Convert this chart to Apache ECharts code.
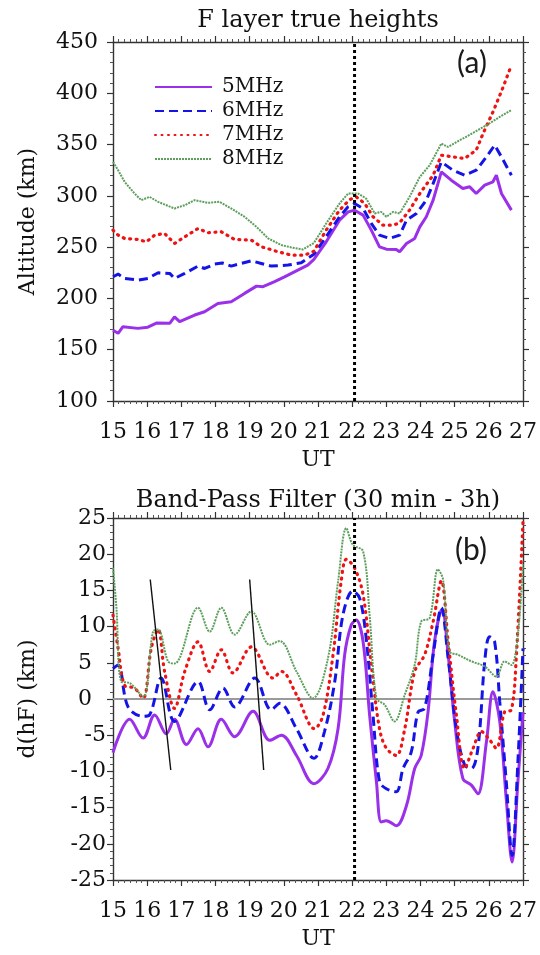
<!DOCTYPE html>
<html><head><meta charset="utf-8">
<script src="https://cdn.jsdelivr.net/npm/echarts@6/dist/echarts.min.js"></script>
<style>html,body{margin:0;padding:0;background:#fff}#c{width:540px;height:955px}</style>
</head><body><div id="c"></div>
<script>
const seriesNames = ['5MHz', '6MHz', '7MHz', '8MHz'];
const xTicks = [15, 27, 1];          // min, max, step (UT hours)
const yTicksA = [100, 450, 50];
const yTicksB = [-25, 25, 5];
const eventTime = 22.07;             // dotted vertical marker (UT)

// ---- panel (a): F layer true heights (km) ----
const tA5 = [15.0,15.15,15.29,15.73,16.02,16.27,16.66,16.8,16.95,17.39,17.68,18.07,18.46,18.85,19.2,19.39,19.73,20.02,20.41,20.7,20.88,21.24,21.63,21.88,22.07,22.32,22.56,22.8,23.0,23.29,23.39,23.59,23.83,23.98,24.17,24.37,24.61,24.9,25.24,25.44,25.63,25.88,26.12,26.22,26.37,26.66];
const hA5 = [169,166,172.4,170.8,172,176,175.7,182,177.3,183.8,187,195,196.8,204.9,212,211.4,216.3,221,227.6,232.5,238,255.2,276.3,284.4,286,281.2,266.6,250.3,248,247.7,245.5,253.6,258.5,269.8,279.6,295.8,323.4,315.3,307.2,308.8,302.3,310.4,313.7,320.1,302.3,286.1];
const tA6 = [15.0,15.15,15.34,15.73,16.02,16.32,16.66,16.8,17.1,17.49,17.68,17.98,18.2,18.46,19.05,19.34,19.63,20.12,20.51,20.88,21.24,21.63,21.88,22.07,22.32,22.56,22.8,23.1,23.39,23.59,23.88,24.17,24.37,24.61,24.95,25.29,25.63,25.93,26.17,26.37,26.66];
const hA6 = [221.1,223.7,219.5,217.9,219.5,225,224.4,219.5,224.4,231.5,229.2,233.5,234.5,231.5,236.7,234.1,231.5,232.5,234.8,243,260.1,279.6,289.3,292.5,287.7,273.1,261.7,258.5,261.7,276.3,282.8,295.8,312,333.1,325,320.1,325,338,349.4,338,320.1];
const tA7 = [15.0,15.15,15.34,15.73,15.98,16.22,16.51,16.8,17.1,17.49,17.78,18.17,18.56,19.05,19.34,19.83,20.22,20.61,20.88,21.24,21.63,21.93,22.12,22.37,22.61,22.9,23.2,23.39,23.68,23.98,24.37,24.61,24.95,25.29,25.63,25.83,26.12,26.42,26.66];
const hA7 = [266.6,261.7,258.5,257.5,255.2,261.7,263.3,253.6,260.1,268.2,264,265,257.5,256.8,250.4,245.5,242.2,242.2,246,266.6,286.1,296.4,299,292.5,279.6,271.4,271.4,273.7,286.1,302.3,320.1,339.6,338,336.4,344.5,360.7,381.8,406.2,427.3];
const tA8 = [15.0,15.15,15.34,15.63,15.83,16.07,16.32,16.8,17.1,17.39,17.78,18.12,18.46,18.85,19.2,19.54,19.93,20.22,20.56,20.88,21.24,21.63,21.88,22.17,22.41,22.66,22.85,23.0,23.2,23.39,23.68,23.98,24.27,24.61,24.8,25.15,25.54,25.93,26.32,26.66];
const hA8 = [333.1,325,313.7,302.3,295.8,299,294.2,287.7,290.9,295.8,293.2,294.2,287.7,279.6,269.8,258.5,252,249.7,247.7,254,273.1,292.5,302.3,302.3,297.4,282.8,284.4,279.6,284.4,282.8,299,318.5,329.9,351,347.7,354.2,361.4,368.8,377,383.5];

// ---- panel (b): band-pass filtered d(hF) (km) ----
const tB5 = [15.0,15.49,15.88,16.22,16.56,16.8,17.15,17.49,17.78,18.17,18.56,19.1,19.59,19.93,20.37,20.88,21.29,21.59,21.78,21.97,22.12,22.32,22.51,22.71,22.85,23.0,23.29,23.59,23.83,24.02,24.22,24.41,24.63,24.81,25.0,25.24,25.49,25.68,25.93,26.12,26.32,26.51,26.68,26.85,27.0];
const dB5 = [-7.4,-2.8,-5.4,-2.2,-4.8,-2.8,-6.3,-4.1,-6.6,-2.8,-5.2,-1.7,-5.7,-5.0,-7.8,-11.7,-9.6,-4.0,6.1,10.2,10.9,7.9,-2.2,-11.4,-17.0,-16.8,-17.5,-14.7,-9.6,-7.8,-1.8,7.9,12.4,6.1,-3.1,-11.0,-11.9,-13.1,-5.9,1.0,-3.1,-13.8,-22.5,-11.4,-1.8];
const tB6 = [15.0,15.15,15.44,15.88,16.07,16.41,16.8,17.49,17.83,18.22,18.56,19.15,19.63,19.88,20.37,20.88,21.19,21.49,21.73,22.02,22.22,22.41,22.61,22.8,23.0,23.29,23.49,23.73,23.93,24.12,24.37,24.61,24.81,25.05,25.29,25.49,25.68,25.88,26.02,26.17,26.32,26.51,26.68,26.85,27.0];
const dB6 = [4.2,4.7,-1.1,-2.4,-2.2,2.9,-3.1,2.4,-1.5,1.5,-1.1,2.9,-1.5,-0.6,-4.1,-8.2,-4.5,2.4,11.6,14.9,13.9,8.4,-2.2,-11.4,-12.4,-12.8,-9.6,-7.3,-1.8,-1.3,6.1,12.6,5.6,-4.1,-9.1,-9.6,-6.8,5.2,8.6,7.9,-0.4,-11.4,-21.6,-8.7,7.0];
const tB7 = [15.0,15.15,15.34,15.63,15.88,16.12,16.32,16.51,16.8,17.1,17.49,17.83,18.17,18.51,19.05,19.68,19.93,20.37,20.9,21.15,21.44,21.68,21.83,22.07,22.32,22.56,22.8,23.0,23.29,23.54,23.83,24.12,24.37,24.61,24.81,25.05,25.29,25.54,25.78,26.0,26.22,26.46,26.66,26.8,27.0];
const dB7 = [11.6,7.0,1.9,1.5,0.1,7.0,9.6,3.8,-1.3,3.8,7.9,3.8,6.8,3.6,7.2,2.9,3.8,0.6,-4.1,-2.2,6.1,16.3,19.3,18.1,14.4,4.7,-4.1,-6.8,-7.8,-4.1,3.8,6.1,10.7,16.3,7.9,-2.2,-9.6,-6.8,-4.5,-5.5,-6.8,-1.8,-1.5,5.5,24.6];
const tB8 = [15.0,15.1,15.24,15.49,15.88,16.17,16.32,16.61,16.8,17.49,17.83,18.17,18.56,19.05,19.59,19.88,20.37,20.85,21.29,21.59,21.83,22.02,22.32,22.51,22.71,22.95,23.24,23.54,23.83,24.02,24.27,24.51,24.66,24.85,25.1,25.49,25.88,26.22,26.46,26.66,26.85,27.0];
const dB8 = [18.1,12.6,2.4,2.2,0.3,9.3,9.6,5.2,4.9,12.6,9.3,12.6,8.9,12.1,7.5,8.0,3.8,0.1,5.6,16.3,23.6,21.3,20.4,11.6,0.1,-0.8,-3.1,0.6,4.7,10.7,11.2,17.9,16.5,6.6,6.1,5.2,4.5,3.1,5.2,4.7,8.9,18.6];

// hand-drawn slanted reference lines in panel (b): [t, d] end points
const slant1 = [[16.09, 16.5], [16.69, -9.8]];
const slant2 = [[19.0, 16.5], [19.41, -9.8]];

const SERIF = "'DejaVu Serif', serif";
const colors = ['#9a30ea', '#1414e6', '#f01212', '#5c9e5c'];
const lineStyles = [
  {width: 3, type: 'solid'},
  {width: 3, type: [9, 5]},
  {width: 3.2, type: [1, 5.5], cap: 'round'},
  {width: 2, type: [2, 1]}
];
const zip = (a, b) => a.map((v, i) => [v, b[i]]);
const dataA = [zip(tA5, hA5), zip(tA6, hA6), zip(tA7, hA7), zip(tA8, hA8)];
const dataB = [zip(tB5, dB5), zip(tB6, dB6), zip(tB7, dB7), zip(tB8, dB8)];

function xAx(grid, pos, labels) {
  return {
    type: 'value', gridIndex: grid, position: pos,
    min: xTicks[0], max: xTicks[1], interval: xTicks[2],
    axisLine: {show: true, onZero: false, lineStyle: {color: '#333', width: 1.4}},
    axisTick: {show: true, inside: false, length: 6, lineStyle: {color: '#333', width: 1.2}},
    minorTick: {show: true, splitNumber: 6, length: 3, lineStyle: {color: '#555'}},
    splitLine: {show: false},
    axisLabel: {show: labels, margin: 20, fontSize: 22, fontFamily: SERIF, color: '#111'},
    name: labels ? 'UT' : '', nameLocation: 'middle', nameGap: 48,
    nameTextStyle: {fontSize: 22, fontFamily: SERIF, color: '#111'}
  };
}
function yAx(grid, pos, ticks, labels, name, margin, fmt) {
  return {
    type: 'value', gridIndex: grid, position: pos,
    min: ticks[0], max: ticks[1], interval: ticks[2],
    axisLine: {show: true, onZero: false, lineStyle: {color: '#333', width: 1.4}},
    axisTick: {show: true, inside: false, length: 6, lineStyle: {color: '#333', width: 1.2}},
    minorTick: {show: true, splitNumber: 5, length: 3, lineStyle: {color: '#555'}},
    splitLine: {show: false},
    axisLabel: {show: labels, margin: margin, fontSize: 22, fontFamily: SERIF, color: '#111', formatter: fmt},
    name: labels ? name : '', nameLocation: 'middle', nameGap: 74, nameRotate: 90,
    nameTextStyle: {fontSize: 22, fontFamily: SERIF, color: '#111'}
  };
}

const series = [];
dataA.forEach((d, i) => series.push({
  name: seriesNames[i], type: 'line', xAxisIndex: 0, yAxisIndex: 0, data: d,
  symbol: 'none', smooth: false, color: colors[i],
  lineStyle: Object.assign({color: colors[i]}, lineStyles[i]), z: 3 + i
}));
series.push({
  type: 'line', xAxisIndex: 2, yAxisIndex: 2, data: [[xTicks[0], 0], [xTicks[1], 0]],
  symbol: 'none', lineStyle: {color: '#9a9a9a', width: 2}, z: 2, silent: true
});
dataB.forEach((d, i) => series.push({
  name: seriesNames[i], type: 'line', xAxisIndex: 2, yAxisIndex: 2, data: d,
  symbol: 'none', smooth: 0.35, color: colors[i],
  lineStyle: Object.assign({color: colors[i]}, lineStyles[i]), z: 3 + i
}));
[slant1, slant2].forEach(s => series.push({
  type: 'line', xAxisIndex: 2, yAxisIndex: 2, data: s, symbol: 'none',
  lineStyle: {color: '#111', width: 1.4}, z: 8, silent: true
}));
series.push({
  type: 'line', xAxisIndex: 0, yAxisIndex: 0, data: [[eventTime, yTicksA[0]], [eventTime, yTicksA[1]]],
  symbol: 'none', lineStyle: {color: '#000', width: 3, type: [3, 3]}, z: 9, silent: true
});
series.push({
  type: 'line', xAxisIndex: 2, yAxisIndex: 2, data: [[eventTime, yTicksB[0]], [eventTime, yTicksB[1]]],
  symbol: 'none', lineStyle: {color: '#000', width: 3, type: [3, 3]}, z: 9, silent: true
});

const chart = echarts.init(document.getElementById('c'), null, {renderer: 'canvas'});
chart.setOption({
  animation: false,
  backgroundColor: '#fff',
  grid: [
    {left: 113, top: 42, width: 410, height: 359},
    {left: 113, top: 518, width: 410, height: 362}
  ],
  xAxis: [xAx(0, 'bottom', true), xAx(0, 'top', false), xAx(1, 'bottom', true), xAx(1, 'top', false)],
  yAxis: [
    yAx(0, 'left', yTicksA, true, 'Altitude (km)', 15),
    yAx(0, 'right', yTicksA, false, '', 8),
    yAx(1, 'left', yTicksB, true, 'd(hF) (km)', 7, v => (v >= 0 && v < 10) ? v + '\u2007' : String(v)),
    yAx(1, 'right', yTicksB, false, '', 8)
  ],
  legend: {
    data: seriesNames, orient: 'vertical', left: 149, top: 72,
    itemWidth: 57, itemHeight: 14, itemGap: 4,
    itemStyle: {opacity: 0},
    textStyle: {fontSize: 20, fontFamily: SERIF, color: '#111', lineHeight: 20, padding: [0, 0, 0, 5]}
  },
  graphic: [
    {type: 'text', x: 318, y: 21, style: {text: 'F layer true heights', font: "24px 'DejaVu Serif', serif", fill: '#111', align: 'center', verticalAlign: 'middle'}},
    {type: 'text', x: 318, y: 501, style: {text: 'Band-Pass Filter (30 min - 3h)', font: "24px 'DejaVu Serif', serif", fill: '#111', align: 'center', verticalAlign: 'middle'}},
    {type: 'text', x: 472, y: 63, style: {text: '(a)', font: "30px Lato, sans-serif", fill: '#1a1a1a', align: 'center', verticalAlign: 'middle'}},
    {type: 'text', x: 471, y: 550, style: {text: '(b)', font: "30px Lato, sans-serif", fill: '#1a1a1a', align: 'center', verticalAlign: 'middle'}}
  ],
  series: series
});
</script></body></html>
